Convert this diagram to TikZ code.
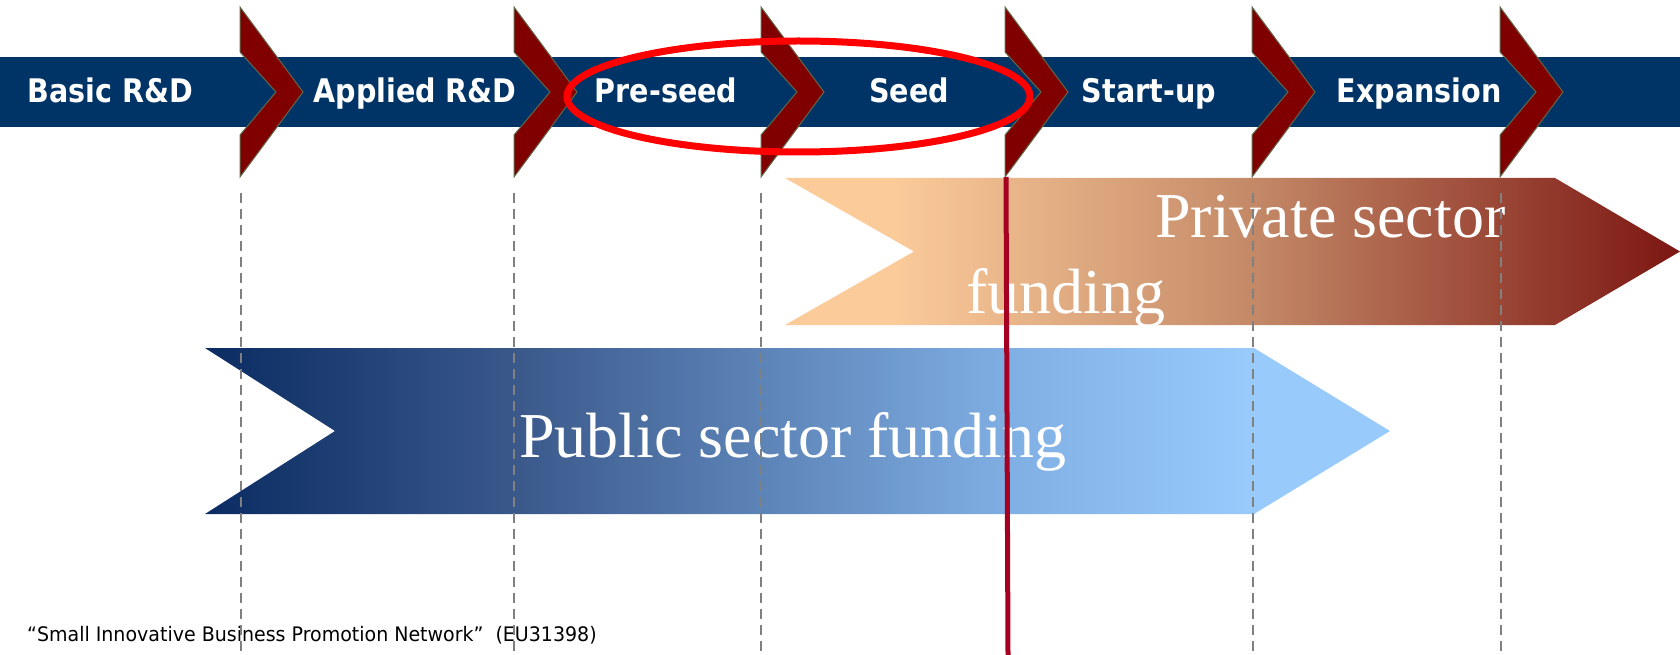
\documentclass[tikz,border=0pt]{standalone}
\usepackage{fontspec}
\usetikzlibrary{shapes.geometric}
\newfontfamily\stagefont[FakeStretch=0.88]{DejaVu Sans}
\newfontfamily\notefont[FakeStretch=0.95]{DejaVu Sans}
\newfontfamily\bigserif{Liberation Serif}

\definecolor{bandblue}{RGB}{0,51,102}
\definecolor{chevred}{RGB}{128,0,0}
\definecolor{chevedge}{RGB}{95,105,75}
\definecolor{ringred}{RGB}{255,0,0}
\definecolor{cutred}{RGB}{165,0,33}
\definecolor{guidegray}{RGB}{128,128,128}
\definecolor{peach}{RGB}{251,203,154}
\definecolor{midbrown}{RGB}{196,138,104}
\definecolor{deepred}{RGB}{124,22,18}
\definecolor{navy}{RGB}{10,44,98}
\definecolor{steel}{RGB}{58,88,138}
\definecolor{skyblue}{RGB}{128,175,228}
\definecolor{paleblue}{RGB}{152,202,252}

\pgfdeclarehorizontalshading{privshade}{100bp}{color(0bp)=(peach); color(31bp)=(peach);
  color(51bp)=(midbrown); color(75bp)=(deepred); color(100bp)=(deepred)}
\pgfdeclarehorizontalshading{pubshade}{100bp}{color(0bp)=(navy); color(25bp)=(navy);
  color(38bp)=(steel); color(59bp)=(skyblue); color(69bp)=(paleblue); color(100bp)=(paleblue)}

\begin{document}
\begin{tikzpicture}
  [
    x=1pt, y=-1pt,
    stage/.style={anchor=base,inner sep=0pt,text=white,font=\stagefont\bfseries\fontsize{32.5}{35}\selectfont},
    bigtext/.style={anchor=base west,inner sep=0pt,text=white,font=\bigserif\fontsize{64}{70}\selectfont},
    note/.style={anchor=base west,inner sep=0pt,text=black,font=\notefont\fontsize{20}{22}\selectfont},
    ring/.style={ellipse,draw=ringred,line width=7pt,minimum width=463pt,minimum height=111pt,inner sep=0pt},
    guide/.style={draw=guidegray,line width=2.6pt,dash pattern=on 10pt off 6pt},
    cut/.style={draw=cutred,line width=5pt},
    chevron/.pic={
      \filldraw[fill=chevred,draw=chevedge,line width=1pt]
        (0,7) -- (63,92) -- (0,177) -- (0,135) -- (36,92) -- (0,52) -- cycle;
    },
  ]
  \useasboundingbox (0,0) rectangle (1680,655);

  % stage band
  \fill[bandblue] (0,57) rectangle (1680,127);
  \pic (c1) at (240,0) {chevron};
  \pic (c2) at (514,0) {chevron};
  \pic (c3) at (761,0) {chevron};
  \pic (c4) at (1005,0) {chevron};
  \pic (c5) at (1252,0) {chevron};
  \pic (c6) at (1500,0) {chevron};

  \node[stage] (basic)     at (110,103)  {Basic R\&D};
  \node[stage] (applied)   at (415,103)  {Applied R\&D};
  \node[stage] (preseed)   at (666,103)  {Pre-seed};
  \node[stage] (seed)      at (909,103)  {Seed};
  \node[stage] (startup)   at (1149,103) {Start-up};
  \node[stage] (expansion) at (1419,103) {Expansion};

  \node[ring] (focus) at (798.5,96.5) {};

  % funding arrows
  \shade[shading=privshade] (785,178) -- (1555,178) -- (1680,251.5) -- (1555,325)
    -- (785,325) -- (914,251.5) -- cycle;
  \shade[shading=pubshade] (205,348) -- (1254,348) -- (1390,431) -- (1254,514)
    -- (205,514) -- (335,431) -- cycle;

  \node[bigtext] (private)  at (1155,237) {Private sector};
  \node[bigtext] (privfund) at (966,313)  {funding};
  \node[bigtext] (public)   at (519,457)  {Public sector funding};

  \node[note] (source) at (27,641) {“Small Innovative Business Promotion Network”\ \ (EU31398)};

  \coordinate (cut top) at (1006,177);
  \coordinate (cut end) at (1008,655);
  \draw[cut] (cut top) -- (cut end);

  \foreach \x in {241,514,761,1253,1501}
    \draw[guide] (\x,193) -- (\x,655);
\end{tikzpicture}
\end{document}
